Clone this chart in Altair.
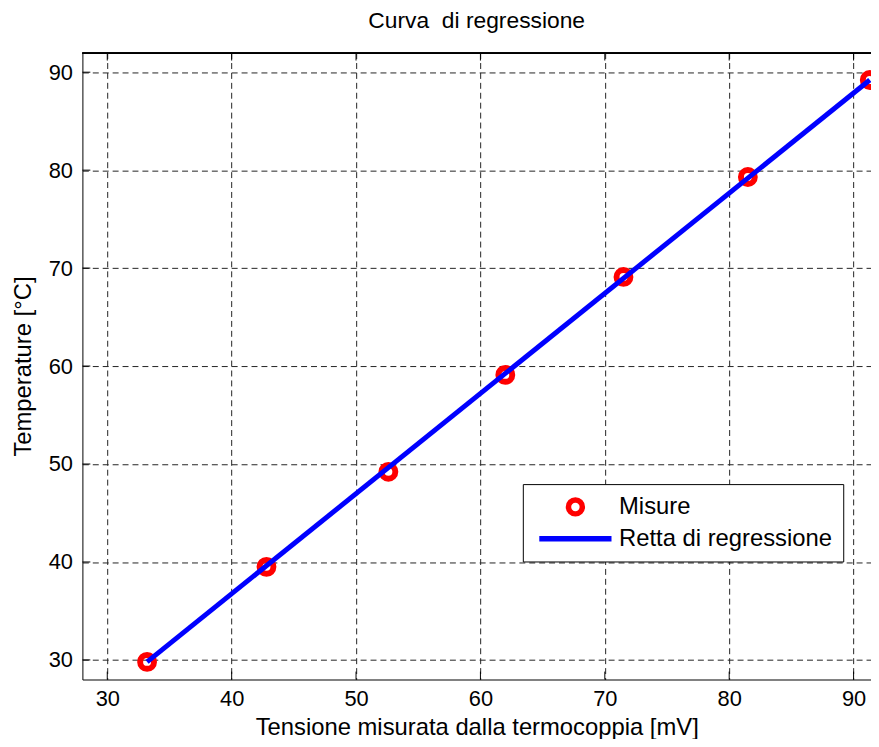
import altair as alt
import pandas as pd

mis_x = [33.2, 42.8, 52.6, 62.0, 71.5, 81.5, 91.3]
mis_y = [29.8, 39.5, 49.2, 59.1, 69.1, 79.3, 89.2]

# Regression line end points
reg_x = [33.2, 91.3]
reg_y = [29.8, 89.2]

x_ticks = [30, 40, 50, 60, 70, 80, 90]
y_ticks = [30, 40, 50, 60, 70, 80, 90]

series = ["Misure", "Retta di regressione"]
colors = ["#ff0000", "#0000ff"]
shapes = ["circle", "M-5.2,0H5.2"]

FONT = "Liberation Sans"
W, H = 795, 632
TICK = 8

pts = pd.DataFrame({"x": mis_x, "y": mis_y, "s": series[0]})
reg = pd.DataFrame({"x": reg_x, "y": reg_y, "s": series[1]})
xt = pd.DataFrame({"v": x_ticks})
yt = pd.DataFrame({"v": y_ticks})

xscale = alt.Scale(domain=[28, 91.4], nice=False, zero=False)
yscale = alt.Scale(domain=[28, 92], nice=False, zero=False)

xaxis = alt.Axis(values=x_ticks, grid=True, ticks=False, tickSize=0, labelPadding=9,
                 title="Tensione misurata dalla termocoppia [mV]", titlePadding=6,
                 domainColor="black", labelFontSize=22, titleFontSize=24)
yaxis = alt.Axis(values=y_ticks, grid=True, ticks=False, tickSize=0, labelPadding=10,
                 title="Temperature [°C]", titlePadding=13,
                 domainColor="black", labelFontSize=22, titleFontSize=24)

legend = alt.Legend(
    title=None, orient="none", legendX=444, legendY=435,
    strokeColor="black", fillColor="white", padding=11, cornerRadius=0,
    labelFontSize=24, labelFont=FONT, labelColor="black", labelLimit=0,
    rowPadding=2, symbolSize=196, symbolStrokeWidth=5.5,
    symbolFillColor="transparent", symbolOpacity=1,
    symbolOffset=30, labelOffset=32,
)

color = alt.Color("s:N", scale=alt.Scale(domain=series, range=colors), legend=legend)
shape = alt.Shape("s:N", scale=alt.Scale(domain=series, range=shapes), legend=legend)

# inner ticks
xtick_bottom = alt.Chart(xt).mark_rule(color="black", strokeWidth=1).encode(
    x=alt.X("v:Q", scale=xscale, axis=xaxis), y=alt.value(H), y2=alt.value(H - TICK))
xtick_top = alt.Chart(xt).mark_rule(color="black", strokeWidth=1).encode(
    x=alt.X("v:Q", scale=xscale, axis=xaxis), y=alt.value(0), y2=alt.value(TICK))
ytick_left = alt.Chart(yt).mark_rule(color="black", strokeWidth=1).encode(
    y=alt.Y("v:Q", scale=yscale, axis=yaxis), x=alt.value(0), x2=alt.value(TICK))
# top frame line of the axes box
frame_top = alt.Chart(xt).mark_rule(color="black", strokeWidth=1).encode(
    x=alt.value(0), x2=alt.value(W), y=alt.value(0.5))

points = alt.Chart(pts).mark_point(filled=False, size=196, strokeWidth=6, opacity=1, clip=True).encode(
    x=alt.X("x:Q", scale=xscale, axis=xaxis),
    y=alt.Y("y:Q", scale=yscale, axis=yaxis),
    color=color,
    shape=shape,
)
line = alt.Chart(reg).mark_line(strokeWidth=5, clip=True).encode(
    x=alt.X("x:Q", scale=xscale, axis=xaxis),
    y=alt.Y("y:Q", scale=yscale, axis=yaxis),
    color=color,
)

chart = alt.layer(xtick_bottom, xtick_top, ytick_left, frame_top, points, line).properties(
    width=W, height=H,
    title=alt.Title("Curva\u00a0 di regressione", fontSize=23, font=FONT, fontWeight="normal",
                    color="black", baseline="alphabetic", offset=1),
    autosize=alt.AutoSizeParams(type="none"),
    padding={"left": 75, "top": 42, "right": 0, "bottom": 57},
).configure(font=FONT).configure_view(stroke=None).configure_axis(
    gridColor="#222", gridDash=[6, 4], gridWidth=1, gridOpacity=1,
    labelFont=FONT, titleFont=FONT, labelColor="black", titleColor="black",
    titleFontWeight="normal", domainWidth=1,
)

chart.save("out.html", embed_options={"renderer": "svg", "actions": False})
